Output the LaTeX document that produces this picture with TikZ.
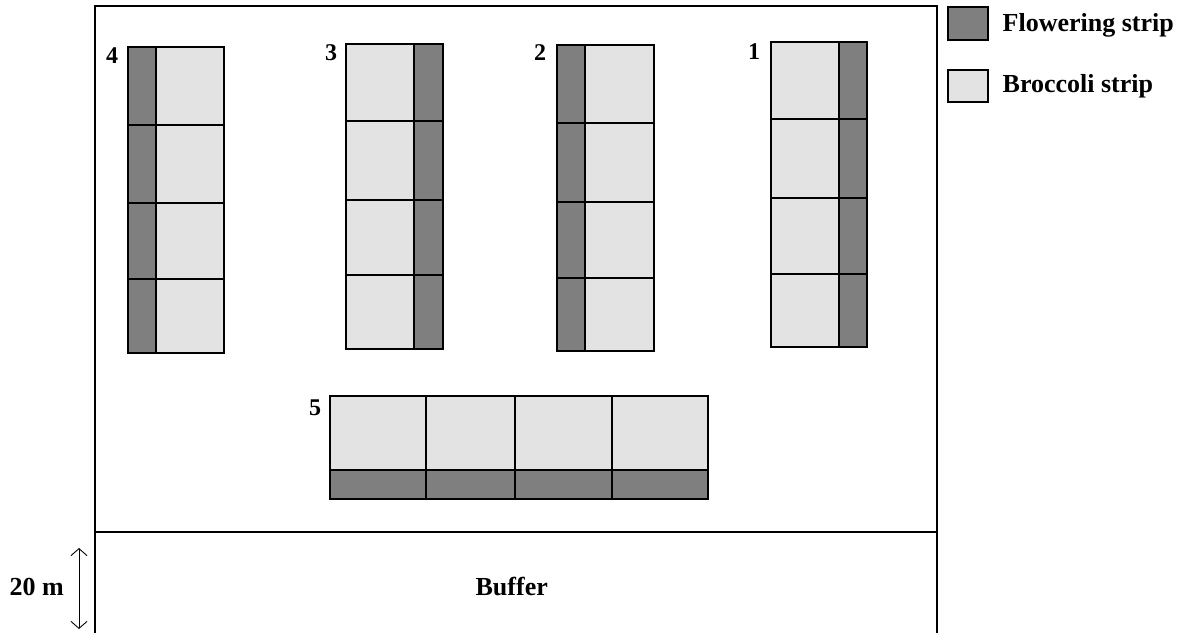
\documentclass[tikz,border=0pt]{standalone}
\usepackage{fontspec}
\setmainfont{Liberation Serif}
\usetikzlibrary{arrows.meta}
\definecolor{flower}{RGB}{127,127,127}
\definecolor{brocc}{RGB}{227,227,227}
\begin{document}
\begin{tikzpicture}[x=1pt,y=-1pt, line width=1.3pt,
  fl/.style={draw=black, fill=flower},
  br/.style={draw=black, fill=brocc},
  lbl/.style={font=\fontsize{24}{24}\selectfont\bfseries, inner sep=0pt},
  txt/.style={font=\fontsize{26}{26}\selectfont\bfseries, inner sep=0pt, anchor=base west}]
\useasboundingbox (0,0) rectangle (1177,632);
\fill[white] (0,0) rectangle (1177,632);
% field frame and buffer line
\draw (95,640) -- (95,6) -- (937,6) -- (937,640);
\draw (95,532) -- (937,532);
% block 4
\foreach \a/\b in {47/125,125/203,203/279,279/353}{
  \draw[fl] (128,\a) rectangle (156,\b);
  \draw[br] (156,\a) rectangle (224,\b);
}
% block 3
\foreach \a/\b in {44/121,121/200,200/275,275/349}{
  \draw[br] (346,\a) rectangle (414,\b);
  \draw[fl] (414,\a) rectangle (443,\b);
}
% block 2
\foreach \a/\b in {45/123,123/202,202/278,278/351}{
  \draw[fl] (557,\a) rectangle (585,\b);
  \draw[br] (585,\a) rectangle (654,\b);
}
% block 1
\foreach \a/\b in {42/119,119/198,198/274,274/347}{
  \draw[br] (771,\a) rectangle (839,\b);
  \draw[fl] (839,\a) rectangle (867,\b);
}
% block 5
\foreach \a/\b in {330/426,426/515,515/612,612/708}{
  \draw[br] (\a,396) rectangle (\b,470);
  \draw[fl] (\a,470) rectangle (\b,499);
}
% block labels
\node[lbl] (n4) at (112,56) {4};
\node[lbl] (n3) at (331,53) {3};
\node[lbl] (n2) at (540,53) {2};
\node[lbl] (n1) at (754,52) {1};
\node[lbl] (n5) at (315,408) {5};
% legend
\draw[fl] (948,7) rectangle (988,40);
\node[txt] (lf) at (1002,31) {Flowering strip};
\draw[br] (948,70) rectangle (988,102);
\node[txt] (lb) at (1002,92) {Broccoli strip};
% buffer
\node[txt] (buf) at (475,595) {Buffer};
\node[txt] (dist) at (9,595) {20 m};
\coordinate (a1) at (79,548);
\coordinate (a2) at (79,629);
\draw[line width=0.9pt, {Straight Barb[length=7pt,width=16pt]}-{Straight Barb[length=7pt,width=16pt]}] (a1) -- (a2);
\end{tikzpicture}
\end{document}
